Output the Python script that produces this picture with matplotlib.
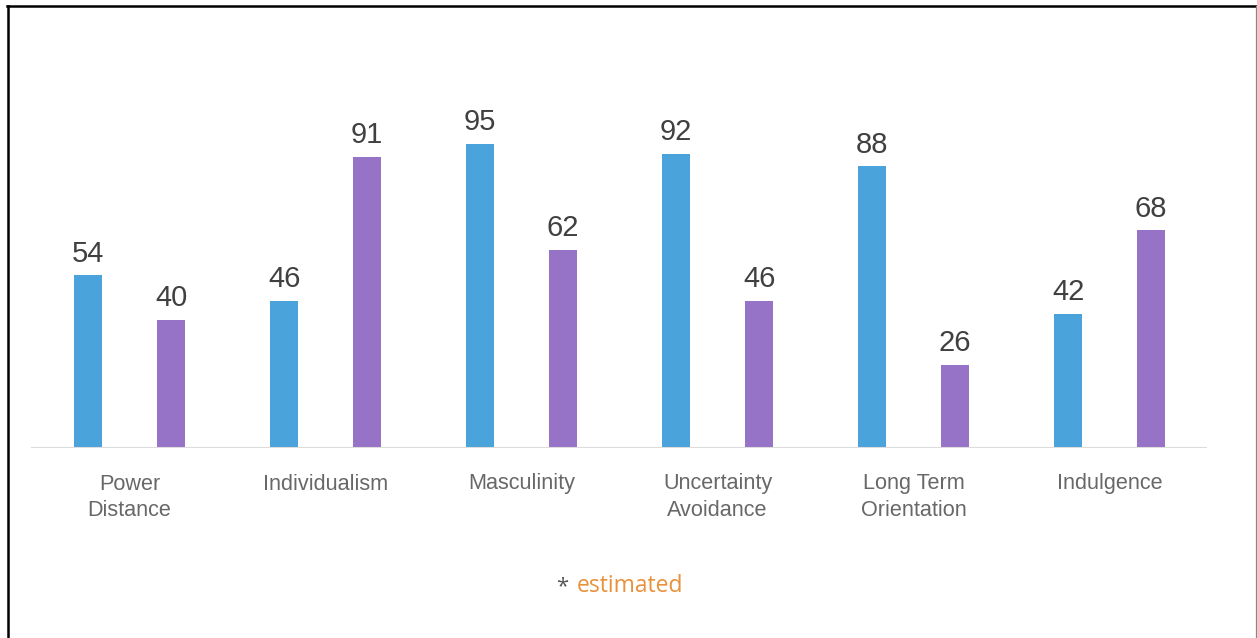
import matplotlib
matplotlib.use("Agg")
import matplotlib.pyplot as plt
from matplotlib.lines import Line2D
import matplotlib.transforms as mtransforms

categories = ["Power\nDistance", "Individualism", "Masculinity",
              "Uncertainty\nAvoidance", "Long Term\nOrientation", "Indulgence"]
series_a = [54, 46, 95, 92, 88, 42]
series_b = [40, 91, 62, 46, 26, 68]
color_a = "#4aa3db"
color_b = "#9673c6"
note_star = "*"
note_text = "estimated"

W, H = 1257, 638
fig = plt.figure(figsize=(W / 100, H / 100), dpi=100)
fig.patch.set_facecolor("white")

# axes placement in pixels
ax_left, ax_right = 31, 1207
base_y = 448
top_y = 100
ax = fig.add_axes([ax_left / W, (H - base_y) / H, (ax_right - ax_left) / W, (base_y - top_y) / H])
px_per_unit = 3.2
ax.set_ylim(0, (base_y - top_y) / px_per_unit)
ax.set_xlim(-0.503, 5.497)

font = ["Liberation Sans", "DejaVu Sans"]
bw = 28 / 196
off = 41.5 / 196
xs = list(range(len(categories)))
bars_a = ax.bar([x - off for x in xs], series_a, width=bw, color=color_a, zorder=2)
bars_b = ax.bar([x + off for x in xs], series_b, width=bw, color=color_b, zorder=2)

for bars, vals in ((bars_a, series_a), (bars_b, series_b)):
    for b, v in zip(bars, vals):
        ax.annotate(str(v), (b.get_x() + b.get_width() / 2, v),
                    xytext=(0, 13.5 * 0.72), textcoords="offset points",
                    ha="center", va="baseline", fontsize=21,
                    color="#404040", family=font)

ax.axhline(0, color="#dcdcdc", lw=1.5, zorder=3)
for s in ax.spines.values():
    s.set_visible(False)
ax.set_xticks([])
ax.set_yticks([])
ax.patch.set_alpha(0)

trans = mtransforms.blended_transform_factory(ax.transData, ax.transAxes)
for i, cat in enumerate(categories):
    for j, line in enumerate(cat.split("\n")):
        ax.annotate(line, (i, 0), xycoords=trans,
                    xytext=(0, -(41.5 + 27 * j) * 0.72), textcoords="offset points",
                    ha="center", va="baseline", fontsize=15.6,
                    color="#686868", family=font,
                    annotation_clip=False)

yb = (H - 592) / H
fig.text(568 / W, yb, note_star, ha="right", va="baseline", fontsize=16,
         color="#555555", family=["Open Sans", "DejaVu Sans"])
fig.text(577 / W, yb, note_text, ha="left", va="baseline", fontsize=16.5,
         color="#e8913a", family=["Open Sans", "DejaVu Sans"])

# frame
fig.add_artist(Line2D([7 / W, 1256 / W], [(H - 6) / H, (H - 6) / H],
                      transform=fig.transFigure, color="black", lw=1.8))
fig.add_artist(Line2D([7.5 / W, 7.5 / W], [0, (H - 6) / H],
                      transform=fig.transFigure, color="black", lw=1.8))
fig.add_artist(Line2D([1256 / W, 1256 / W], [0, (H - 6) / H],
                      transform=fig.transFigure, color="#888888", lw=0.9))

fig.savefig("out.png", dpi=100, facecolor="white")
